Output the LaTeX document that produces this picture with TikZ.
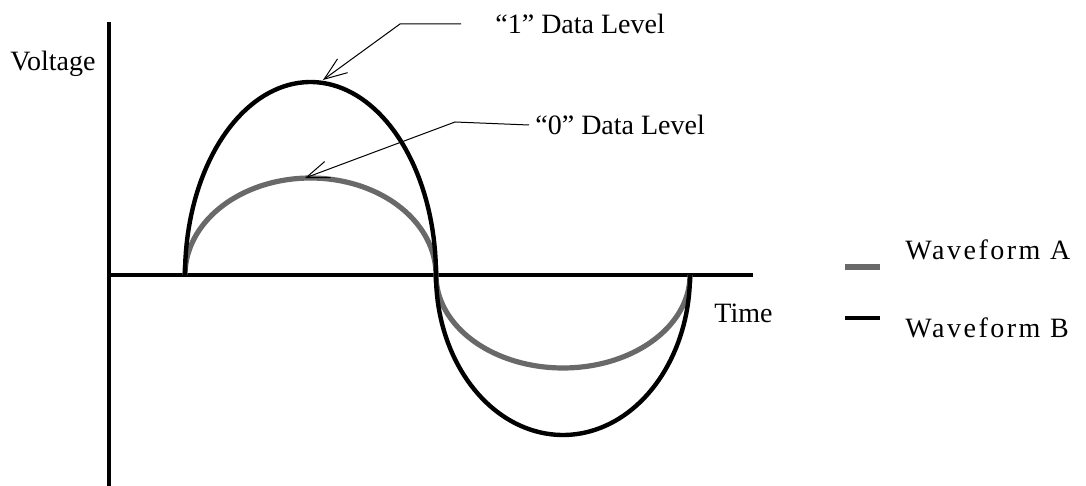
\documentclass[tikz,border=0pt]{standalone}
\usepackage{fontspec}
\setmainfont{Liberation Serif}
\newfontfamily\legendfont[LetterSpace=9]{Liberation Serif}
\usetikzlibrary{arrows.meta,positioning}
\definecolor{waveA}{RGB}{105,105,105}
\tikzset {
  >={Straight Barb[length=4mm,width=3mm]},
  every node/.style={font=\fontsize{14}{16}\selectfont},
}

\begin{document}
\begin{tikzpicture}[x=0.5pt,y=-0.5pt,
    axis/.style={line width=2pt},
    curveA/.style={waveA,line width=2.6pt},
    curveB/.style={black,line width=2.2pt},
    leader/.style={line width=0.5pt,->},
    lbl/.style={inner sep=0pt,anchor=west}]
          \useasboundingbox (0,0) rectangle (1086,486);
          % axes
          \draw[axis] (109,22) -- (109,486);
          \draw[axis] (109,275) -- (753,275);
          \node[lbl] (volt) at (10,64) {Voltage};
          \node[lbl] (time) at (714,313) {Time};
          % waveforms
          \draw[curveA,domain=180:360,samples=80] plot({310.5+125.5*cos(\x)},{275+97*sin(\x)});
          \draw[curveA,domain=0:180,samples=80] plot({563-127*cos(\x)},{275+93*sin(\x)});
          \draw[curveB,domain=180:360,samples=80] plot({310.5+125.5*cos(\x)},{275+193*sin(\x)});
          \draw[curveB,domain=0:180,samples=80] plot({563-127*cos(\x)},{275+160*sin(\x)});
          % data levels
          \coordinate (peakB) at (323,80);
          \coordinate (peakA) at (305,178);
          \node[lbl] (one) at (495,24) {``1'' Data Level};
          \node[lbl] (zero) at (535,125) {``0'' Data Level};
          \draw[leader] ([xshift=-17]one.west) -- (400,24) -- (peakB);
          \draw[leader] ([xshift=-3]zero.west) -- (455,122) -- (peakA);
          % legend
          \draw[curveA] (845,267) -- (880,267);
          \draw[curveB] (845,318) -- (880,318);
          \node[lbl] (legA) at (905,250) {\legendfont Waveform A};
          \node[lbl] (legB) at (905,328) {\legendfont Waveform B};
        \end{tikzpicture}
\end{document}
